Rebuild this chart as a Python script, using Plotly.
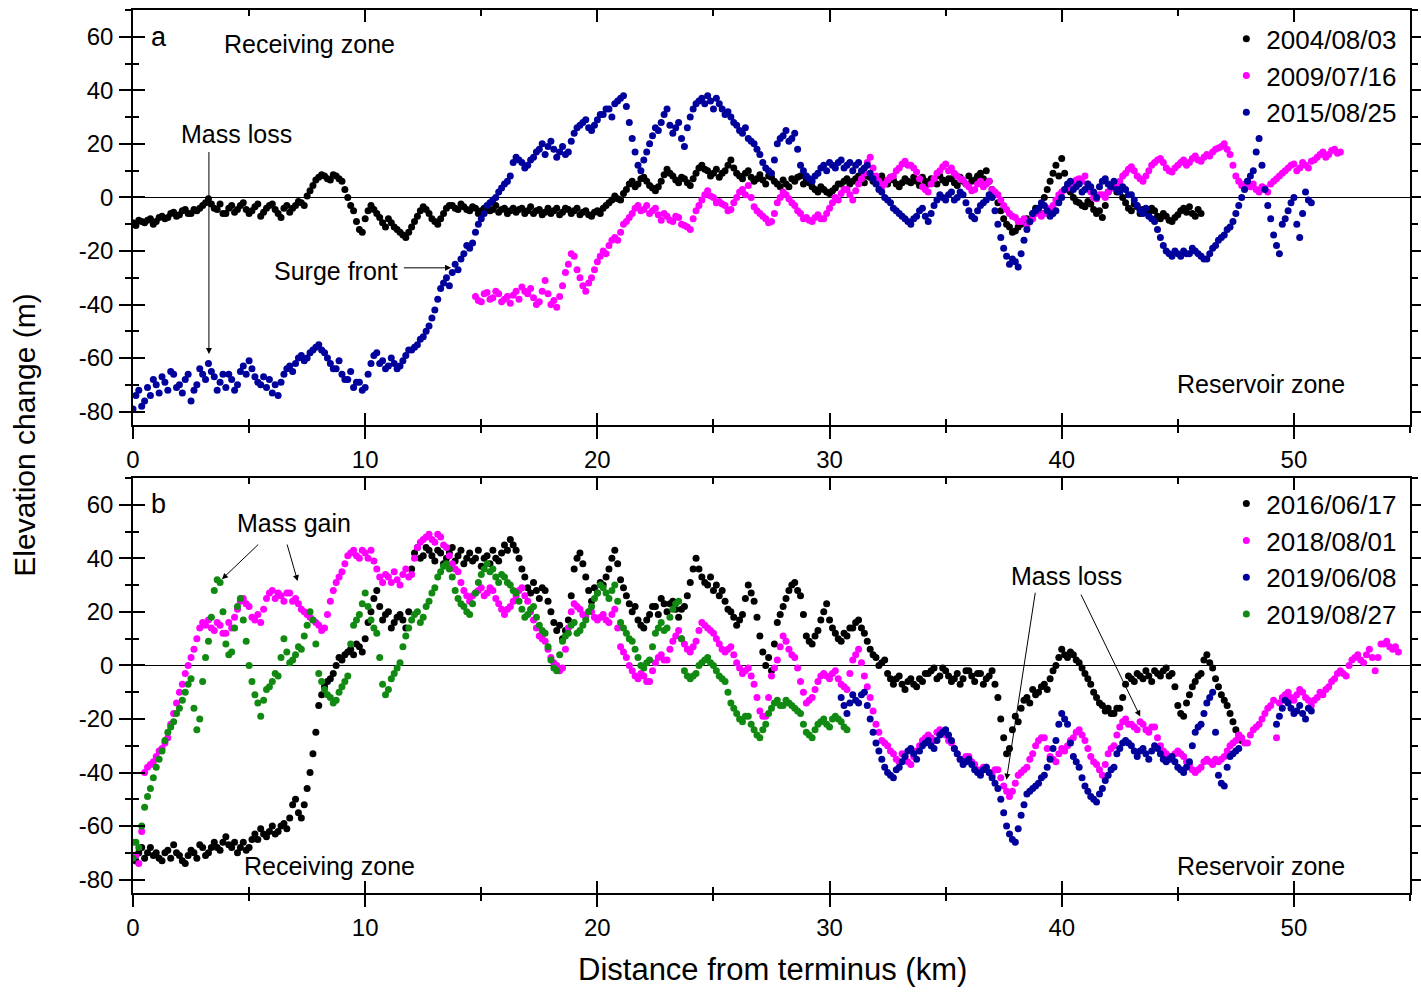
import numpy as np
import plotly.graph_objects as go

# ---------------------------------------------------------------------------
# Elevation-change profiles along the glacier centre line.
# "A" readings are taken every KM_STEP km from the profile's first distance,
# "B" readings sit half a step later, between consecutive "A" readings.
# ---------------------------------------------------------------------------
KM_STEP = 0.25

# ----- panel a -----
START_2004 = 0.0
DH_2004_A = [
    -9.5, -8.5, -9.5, -8, -9, -7, -7.5, -5.5, -6.5, -4.5, -6, -5, -3, -0.5, -4, -2.5,
    -6, -3, -4.5, -2, -6, -3.5, -7, -4, -2.5, -6, -4, -5.5, -3, -2, 0.5, 4.5,
    7.5, 8, 6.5, 8, 6, 0, -5, -12, -8, -3, -6, -9.5, -8, -11, -13, -15,
    -11, -7, -3.5, -6, -9, -8, -4, -3, -4.5, -3.5, -5, -4, -5, -3.5, -4.5, -5.5,
    -4, -5, -5.5, -4, -5, -6, -4.5, -5.5, -6, -4, -5.5, -4.5, -5, -6.5, -5, -7,
    -5, -4, -2, 0.5, -1, 3, 6, 5, 7.5, 4.5, 2.5, 6, 10.5, 8, 5.5, 7,
    4.5, 9, 12, 10, 9, 7.5, 10, 14, 9, 7, 10, 6, 8.5, 5, 7.5, 5,
    6.5, 4, 6, 8, 6.5, 4, 2, 3, 1.5, 3.5, 5, 7, 6, 8, 5.5, 7.5,
    6, 8, 5, 6.5, 4, 7, 5.5, 6, 7.5, 5, 6.5, 8, 5.5, 7, 4.5, 6,
    8, 6.5, 9, 10, 3, -2, -8, -11, -12.5, -10, -8, -6, -4, 0, 6, 12,
    14.5, 4, 0, -2, -3.5, -2.5, -6, -7.5, 2, 4, 3, -2, -5, -3.5, -4.5, -6,
    -5, -8, -7, -9, -6.5, -4, -3.5, -7, -6,
]
DH_2004_B = [
    -10.5, -9, -8.5, -10, -7.5, -8, -6, -7, -5, -6, -4.5, -4, -2, -2.5, -4.5, -6,
    -4, -5.5, -3, -4.5, -5, -2.5, -5.5, -3, -4.5, -7.5, -3, -4, -1.5, -3, 2.5, 6.5,
    8.5, 7, 8.5, 7, 3, -3, -9, -13, -5, -4.5, -7.5, -11, -9.5, -12, -14, -13,
    -9, -5, -4.5, -8, -10, -6, -3, -4, -2.5, -4.5, -3.5, -6, -4, -5, -3, -4.5,
    -6, -4, -4.5, -6, -3.5, -5, -6.5, -4, -5, -6.5, -4, -6, -4, -5.5, -6.5, -5.5,
    -6, -3, -1, -0.5, 1.5, 5, 4, 7, 6, 3.5, 4, 8.5, 9, 6.5, 7.5, 5.5,
    7, 11, 10.5, 8, 10.5, 9, 12, 11, 8, 9, 7.5, 7, 6.5, 8, 6, 4,
    5, 7, 7.5, 5, 5.5, 3, 4, 2, 2.5, 5, 6, 5, 7, 6.5, 8, 6,
    7, 6, 7.5, 5, 5.5, 6, 7.5, 4.5, 6, 7, 5, 6.5, 7, 5.5, 7.5, 5,
    6, 8, 7, 6, 1, -5, -10, -13, -11, -8.5, -9, -4, -6, 3, 9, 8,
    9, 2, -1.5, -3, -1.5, -4.5, -5, -3, 3.5, 2, 0, -4, -2.5, -6, -5, -4,
    -7, -6, -8.5, -7.5, -5, -5.5, -6, -4.5,
]

START_2009 = 14.75
DH_2009_A = [
    -37, -39, -35.5, -37.5, -36, -38, -39.5, -35, -33.5, -36, -37.5, -39, -31, -40, -41, -33,
    -25, -22, -30, -35, -30, -24, -20, -18, -15, -13, -9, -6, -3, -4.5, -6, -4,
    -8.5, -7, -9, -7.5, -10.5, -12, -5, -1, 2.5, 0, -1.5, -3, -4.5, 0, 3, 4.5,
    -3.5, -6, -8, -9, -2, 2, -0.5, -3, -6, -7.5, -9, -6.5, -8, -4, 0, 1.5,
    3, -1, 5, 9, 15, 8, 4, 6.5, 8, 11, 13.5, 12, 9.5, 4, 2, 7,
    10, 12.5, 11, 8, 6.5, 4, 3, 6, 5, 3, 1, -3, -6, -7.5, -9, -10.5,
    -8, -4.5, -6, -5, -1, 2, 3.5, 5, 7, 8, 2, -0.5, 1, 2, 4.5, 6,
    9, 11.5, 8, 6, 10, 13, 14.5, 11, 9.5, 12, 14, 13, 15.5, 13.5, 16, 17,
    18.5, 20, 16, 8, 4.5, 6, 5, 2, 3.5, 5, 7, 9, 11, 12.5, 11, 12,
    13.5, 15, 17, 16, 18, 17,
]
DH_2009_B = [
    -38.5, -36, -38, -35, -39, -37, -36.5, -38, -35, -34, -40, -35, -36, -38.5, -37, -28,
    -21, -27, -33, -32, -27, -22, -21, -16, -16, -10, -7.5, -4, -5, -3, -5, -6.5,
    -6, -8.5, -7, -10, -11, -8, -3, 1, 0.5, -2, -2.5, -5, -2, 2, 1, 0,
    -5, -7, -9.5, -6, 0, 1, -2, -5, -8, -8.5, -7.5, -8, -6, -2, -1, 3,
    1, 2.5, 7, 13, 11, 6, 5, 7.5, 10, 12.5, 12, 11, 7, 3, 5, 9,
    11.5, 10, 9, 7, 5, 2.5, 5, 4, 6, 2, -1, -4.5, -7, -9, -8, -9,
    -6, -7, -4, -3, 1, 3, 4, 6.5, 6, 5, 0, 1, 0, 3.5, 5, 8,
    10.5, 10, 7, 8, 12, 14, 13, 10, 11, 13, 12, 14.5, 14, 15, 15.5, 18,
    19, 18, 12, 6, 5, 4, 3, 4, 2, 6, 8, 10, 12, 10, 13, 11,
    14, 16, 15, 17.5, 16.5,
]

START_2015 = 0.0
DH_2015_A = [
    -79, -72, -76, -74, -70, -67, -72, -66, -70, -68, -76, -70, -66, -62, -67, -69,
    -71, -68, -70, -63, -61, -67, -70, -71, -73, -74, -66, -63, -62, -59, -60, -57,
    -55, -58, -62, -64, -66, -68, -71, -69, -71, -62, -58, -61, -63, -62, -63, -59,
    -57, -55, -52, -48, -42, -34, -30, -28, -27, -21, -19, -13, -8, -3, -1, 2,
    5, 8, 15, 13, 12, 15, 18, 16, 21, 15, 19, 17, 24, 27, 29, 25,
    29, 31, 33, 35, 37, 34, 22, 12, 14, 20, 26, 28, 33, 24, 28, 19,
    30, 35, 37, 38, 33, 35, 31, 30, 27, 24, 22, 20, 16, 11, 9, 20,
    23, 21, 24, 12, 8, 6, 9, 12, 13, 11, 14, 12, 10, 13, 11, 9,
    5, 2, -1, -4, -6, -8, -10, -7, -4, -9, -3, 1, -1, 2, 0, 1,
    -5, -8, -3, -1, 0, -10, -19, -25, -24, -21, -12, -6, -4, -3, -7, -5,
    0, 5, 3, 5, 3, 4, 0, 6, 5, 6, 2, 3, 1, -3, -6, -7,
    -9, -15, -20, -22, -21, -20, -21, -20, -22, -23, -19, -16, -14, -11, -6, 0,
    6, 10, 22, 3, -8, -18, -10, -5, 0, -15, 2, -2,
]
DH_2015_B = [
    -74, -78, -71, -68, -73, -69, -65, -71, -73, -66, -72, -64, -68, -65, -72, -66,
    -66, -72, -65, -66, -64, -69, -67, -68, -70, -69, -64, -65, -60, -61, -58, -56,
    -57, -60, -64, -61, -68, -65, -69, -72, -66, -59, -62, -64, -60, -64, -61, -57,
    -56, -53, -50, -45, -38, -32, -33, -25, -23, -18, -17, -10, -6, -2, 0, 3.5,
    6, 13, 14, 11, 14, 17, 20, 19, 18, 17, 16, 21, 26, 28, 26, 27,
    31, 33, 30, 36, 38, 28, 17, 10, 17, 23, 25, 31, 27, 26, 22, 26,
    33, 36, 35, 36, 37, 33, 32, 28, 25, 26, 21, 18, 13, 10, 14, 22,
    25, 22, 18, 10, 7, 8, 11, 10, 12, 13, 11, 13, 12, 10, 12, 7,
    3, 0, -2, -5, -7, -9, -8, -5, -7, -6, -1, 0, 1, -1, 2, -2,
    -7, -5, -2, 1, -5, -15, -22, -23, -26, -16, -9, -5, -2, -5, -6, -2,
    3, 6, 4, 2, 5, 2, 4, 7, 4, 3, 4, 1, -1, -5, -4, -8,
    -12, -18, -21, -20, -22, -21, -19, -21, -23, -21, -18, -15, -12, -9, -3, 3,
    8, 17, 12, -3, -14, -21, -8, -2, -10, -6, -1,
]

# ----- panel b -----
START_2016 = 0.0
DH_2016_A = [
    -71, -70, -72, -68, -70, -73, -69, -67, -71, -74, -69, -72, -68, -70, -66, -69,
    -64, -68, -70, -66, -68, -63, -61, -64, -60, -62, -59, -57, -50, -57, -46, -33,
    -15, -8, -5, 0, 2, 5, 4, 7, 10, 20, 28, 17, 20, 16, 19, 14,
    36, 44, 41, 43, 39, 42, 40, 44, 41, 38, 42, 40, 37, 41, 43, 39,
    45, 47, 43, 36, 29, 31, 25, 28, 20, 13, 10, 17, 36, 42, 33, 24,
    27, 30, 36, 43, 32, 26, 20, 17, 14, 19, 22, 25, 20, 24, 18, 22,
    31, 40, 33, 30, 28, 26, 24, 20, 15, 19, 30, 24, 11, 0, -2, 16,
    22, 28, 31, 26, 11, 8, 13, 20, 17, 12, 9, 11, 14, 17, 12, 6,
    3, 1, -3, -7, -4, -9, -5, -8, -6, -3, -1, -4, -2, -6, -3, -5,
    -2, -6, -3, -5, -2, -12, -27, -31, -19, -16, -12, -9, -10, -7, -5, 0,
    6, 3, 4, 1, -3, -7, -12, -15, -16, -18, -16, -7, -5, -3, -5, -4,
    -2, -4, -1, -3, -15, -19, -11, -6, -3, 4, -1, -8, -13, -18, -24, -28,
]
DH_2016_B = [
    -73, -68, -70, -71, -72, -70, -72, -70, -73, -71, -70, -67, -71, -68, -68, -66,
    -67, -66, -68, -69, -65, -65, -63, -62, -63, -60, -61, -52, -55, -52, -40, -25,
    -11, -6, -3, 3, 4, 6, 8, 5, 16, 25, 22, 19, 14, 18, 17, 20,
    42, 40, 44, 41, 43, 38, 42, 39, 43, 40, 39, 43, 40, 38, 40, 42,
    43, 45, 40, 33, 27, 28, 29, 24, 16, 15, 13, 26, 40, 38, 28, 29,
    31, 33, 40, 38, 29, 23, 22, 15, 17, 22, 19, 23, 23, 21, 21, 26,
    36, 36, 31, 33, 30, 28, 21, 18, 17, 25, 27, 18, 5, 3, 8, 19,
    25, 30, 28, 19, 9, 11, 17, 23, 14, 10, 12, 14, 16, 14, 9, 4,
    0, 2, -5, -5, -7, -6, -7, -5, -3, -2, -5, -1, -4, -5, -7, -2,
    -4, -3, -7, -4, -7, -20, -33, -24, -21, -13, -14, -11, -8, -9, -2, 3,
    4, 5, 2, -1, -5, -10, -14, -17, -18, -16, -12, -4, -6, -4, -2, -6,
    -3, -2, -4, -8, -18, -14, -8, -4, 2, 1, -5, -11, -15, -21, -26,
]

START_2018 = 0.0
DH_2018_A = [
    -66, -74, -40, -37, -34, -31, -27, -18, -10, -3, 3, 10, 16, 17, 13, 15,
    12, 14, 21, 25, 22, 17, 16, 25, 28, 27, 24, 27, 25, 21, 19, 17,
    15, 14, 24, 31, 35, 41, 43, 40, 42, 43, 36, 31, 33, 35, 30, 36,
    34, 44, 47, 49, 46, 48, 44, 38, 35, 28, 24, 27, 29, 27, 28, 23,
    19, 22, 26, 29, 24, 17, 11, 9, 3, 0, -1, 14, 23, 21, 18, 20,
    17, 19, 16, 21, 7, 3, -2, -5, -4, -6, 1, 4, 2, 9, 13, 8,
    5, 9, 16, 14, 12, 8, 5, 7, 1, -3, -1, -7, -17, -19, -4, 2,
    11, 6, 3, -6, -14, -12, -6, -3, -5, -2, -7, -9, 2, 6, -4, -12,
    -22, -28, -30, -33, -36, -34, -37, -32, -28, -26, -28, -24, -26, -29, -33, -36,
    -34, -37, -40, -38, -41, -39, -45, -49, -44, -40, -38, -33, -28, -27, -34, -36,
    -31, -30, -27, -24, -28, -34, -37, -41, -33, -30, -23, -20, -22, -24, -22, -25,
    -23, -30, -33, -35, -32, -34, -37, -40, -38, -35, -37, -36, -34, -30, -28, -27,
    -29, -24, -22, -18, -15, -27, -12, -10, -13, -9, -12, -15, -12, -11, -8, -5,
    -2, -4, 2, 4, 1, 6, -2, 8, 9, 6, 5,
]
DH_2018_B = [
    -71, -62, -38, -36, -32, -29, -22, -14, -7, 0, 6, 14, 15, 14, 16, 12,
    16, 18, 24, 23, 18, 19, 21, 27, 25, 26, 27, 24, 23, 20, 18, 16,
    13, 19, 28, 33, 38, 42, 41, 43, 40, 39, 33, 34, 31, 32, 34, 33,
    40, 46, 48, 47, 49, 45, 41, 36, 31, 26, 26, 28, 26, 29, 25, 21,
    21, 24, 28, 26, 20, 14, 10, 6, 1, -2, 6, 20, 22, 19, 20, 18,
    18, 17, 19, 14, 5, 0, -4, -3, -6, -2, 3, 2, 6, 11, 10, 6,
    7, 13, 15, 13, 10, 6, 6, 4, -1, -2, -4, -12, -19, -12, -1, 7,
    9, 4, -1, -10, -13, -9, -4, -4, -3, -5, -8, -3, 4, 1, -8, -17,
    -25, -29, -32, -35, -33, -36, -34, -30, -27, -27, -25, -25, -28, -31, -35, -34,
    -36, -39, -38, -40, -39, -42, -47, -47, -41, -39, -35, -30, -27, -31, -35, -33,
    -32, -28, -25, -26, -31, -36, -39, -37, -31, -26, -21, -22, -23, -21, -24, -23,
    -27, -32, -34, -33, -33, -36, -39, -39, -36, -36, -35, -35, -32, -29, -26, -29,
    -26, -23, -20, -16, -13, -14, -11, -12, -11, -10, -13, -13, -10, -9, -6, -3,
    -3, 0, 3, 2, 4, 3, 3, 8, 7, 7,
]

START_201906 = 30.5
DH_201906_A = [
    -12, -18, -11, -14, -10, -20, -29, -35, -40, -42, -38, -34, -31, -35, -30, -28,
    -31, -26, -24, -28, -33, -37, -35, -39, -41, -38, -42, -46, -55, -63, -66, -56,
    -48, -46, -44, -41, -35, -28, -18, -22, -34, -38, -45, -49, -51, -46, -41, -38,
    -31, -28, -30, -34, -31, -35, -30, -33, -36, -34, -38, -40, -36, -25, -22, -14,
    -10, -41, -45, -34, -32, None, None, None, None, None, None, -22, -16, -14, -18, -15,
    -20, -17,
]
DH_201906_B = [
    -15, -14, -13, -11, -15, -25, -32, -38, -41, -39, -36, -32, -33, -32, -29, -30,
    -28, -25, -26, -31, -35, -36, -37, -40, -39, -40, -44, -50, -60, -65, -61, -52,
    -47, -45, -42, -38, -31, -22, -20, -29, -36, -42, -47, -50, -48, -43, -39, -33,
    -29, -29, -32, -32, -33, -32, -31, -35, -35, -36, -39, -38, -30, -23, -18, -12,
    -25, -44, -38, -33, -31, None, None, None, None, None, None, -19, -13, -16, -17, -18,
    -16,
]

START_201908 = 0.0
DH_201908_A = [
    -72, -68, -53, -46, -38, -32, -25, -21, -16, -10, -5, -24, -6, 9, 28, 31,
    8, 5, 22, 17, 0, -11, -19, -9, -6, -4, 10, 1, 4, 6, 15, 17,
    -3, -9, -12, -13, -8, -4, 15, 19, 27, 17, 12, -7, -9, -3, 1, 11,
    17, 20, 18, 24, 29, 35, 38, 33, 25, 22, 19, 27, 34, 38, 36, 31,
    33, 30, 27, 21, 19, 22, 15, 12, 2, -2, 9, 12, 16, 13, 17, 22,
    27, 29, 25, 30, 16, 12, 9, 3, -1, 2, 12, 16, 14, 21, 24, -2,
    -5, -3, 1, 3, 0, -4, -6, -14, -18, -21, -19, -24, -27, -22, -16, -13,
    -15, -14, -16, -18, -25, -27, -22, -20, -23, -19, -21, -24,
]
DH_201908_B = [
    -66, -60, -49, -42, -35, -28, -23, -18, -13, -7, -16, -20, 3, 18, 32, 20,
    4, 14, 25, 9, -6, -14, -13, -8, -3, 3, 5, 2, 7, 11, 20, 8,
    -6, -11, -14, -10, -6, 8, 17, 23, 22, 14, 3, -11, -5, -1, 7, 14,
    19, 16, 22, 27, 33, 37, 36, 28, 23, 20, 23, 31, 36, 35, 33, 34,
    31, 28, 24, 18, 21, 18, 13, 7, -1, 4, 11, 15, 12, 15, 20, 25,
    30, 27, 28, 24, 14, 10, 6, 0, 1, 7, 14, 13, 18, 23, 10, -4,
    -4, 0, 2, 1, -2, -5, -10, -16, -20, -19, -22, -26, -24, -18, -14, -15,
    -13, -15, -17, -22, -26, -24, -21, -22, -20, -20, -23,
]

PANEL_A = [
    ("2004/08/03", START_2004, DH_2004_A, DH_2004_B, "#000000"),
    ("2009/07/16", START_2009, DH_2009_A, DH_2009_B, "#FF00FF"),
    ("2015/08/25", START_2015, DH_2015_A, DH_2015_B, "#00009C"),
]
PANEL_B = [
    ("2016/06/17", START_2016, DH_2016_A, DH_2016_B, "#000000"),
    ("2018/08/01", START_2018, DH_2018_A, DH_2018_B, "#FF00FF"),
    ("2019/06/08", START_201906, DH_201906_A, DH_201906_B, "#00009C"),
    ("2019/08/27", START_201908, DH_201908_A, DH_201908_B, "#118A11"),
]

X_TICKS = [0, 10, 20, 30, 40, 50]
Y_TICKS = [-80, -60, -40, -20, 0, 20, 40, 60]
X_RANGE = [0, 55]
Y_RANGE = [-85, 70]

FONT = "Liberation Sans, Arial, sans-serif"
MARKER_SIZE = 7

fig = go.Figure()


def add_profiles(series, xref, yref, legend):
    for name, start, dh_a, dh_b, color in series:
        km_a = start + KM_STEP * np.arange(len(dh_a))
        km_b = start + KM_STEP / 2 + KM_STEP * np.arange(len(dh_b))
        fig.add_trace(go.Scatter(
            x=np.concatenate([km_a, km_b]), y=list(dh_a) + list(dh_b),
            mode="markers", name=name,
            marker=dict(color=color, size=MARKER_SIZE, line=dict(width=0)),
            xaxis=xref, yaxis=yref, legend=legend,
        ))


add_profiles(PANEL_A, "x", "y", "legend")
add_profiles(PANEL_B, "x2", "y2", "legend2")

# empty helpers so the inner-tick overlay axes get drawn
for xa, ya in [("x3", "y"), ("x", "y3"), ("x4", "y2"), ("x2", "y4")]:
    fig.add_trace(go.Scatter(x=[None], y=[None], xaxis=xa, yaxis=ya,
                             showlegend=False, hoverinfo="skip"))

tick_font = dict(family=FONT, size=24, color="black")


def main_x(anchor):
    return dict(anchor=anchor, domain=[0, 1], range=X_RANGE,
                tickvals=X_TICKS, ticktext=[str(v) for v in X_TICKS],
                ticks="outside", ticklen=12, tickwidth=1.5, tickcolor="black",
                minor=dict(ticks="outside", ticklen=6, dtick=5, tick0=0,
                           tickwidth=1.5, tickcolor="black"),
                showline=True, linecolor="black", linewidth=1.5, mirror=True,
                showgrid=False, zeroline=False, tickfont=tick_font,
                ticklabelstandoff=0)


def main_y(anchor, domain):
    return dict(anchor=anchor, domain=domain, range=Y_RANGE,
                tickvals=Y_TICKS, ticktext=[str(v) for v in Y_TICKS],
                ticks="outside", ticklen=12, tickwidth=1.5, tickcolor="black",
                minor=dict(ticks="outside", ticklen=6, dtick=10, tick0=0,
                           tickwidth=1.5, tickcolor="black"),
                showline=True, linecolor="black", linewidth=1.5, mirror="ticks",
                showgrid=False, zeroline=True, zerolinecolor="black",
                zerolinewidth=1, tickfont=tick_font, ticklabelstandoff=1)


def inner_x(over, anchor):
    return dict(overlaying=over, anchor=anchor, range=X_RANGE, tickvals=X_TICKS,
                ticks="inside", ticklen=12, tickwidth=1.5, tickcolor="black",
                minor=dict(ticks="inside", ticklen=6, dtick=5, tick0=0,
                           tickwidth=1.5, tickcolor="black"),
                showline=True, linecolor="black", linewidth=1.5, mirror="ticks",
                showticklabels=False, showgrid=False, zeroline=False)


def inner_y(over, anchor):
    return dict(overlaying=over, anchor=anchor, range=Y_RANGE, tickvals=Y_TICKS,
                ticks="inside", ticklen=12, tickwidth=1.5, tickcolor="black",
                minor=dict(ticks="inside", ticklen=6, dtick=10, tick0=0,
                           tickwidth=1.5, tickcolor="black"),
                showline=False, side="left",
                showticklabels=False, showgrid=False, zeroline=False)


DOMAIN_A = [0.530, 1.0]
DOMAIN_B = [0.0, 0.470]
legend_font = dict(family=FONT, size=26, color="black")

fig.update_layout(
    width=1421, height=994,
    margin=dict(l=133, r=11, t=10, b=101, autoexpand=False),
    paper_bgcolor="white", plot_bgcolor="white",
    font=dict(family=FONT, color="black"),
    xaxis=main_x("y"), yaxis=main_y("x", DOMAIN_A),
    xaxis2=main_x("y2"), yaxis2=main_y("x2", DOMAIN_B),
    xaxis3=inner_x("x", "y"), yaxis3=inner_y("y", "x"),
    xaxis4=inner_x("x2", "y2"), yaxis4=inner_y("y2", "x2"),
    legend=dict(x=0.994, y=0.994, xanchor="right", yanchor="top",
                bgcolor="rgba(0,0,0,0)", font=legend_font,
                tracegroupgap=0, itemwidth=30),
    legend2=dict(x=0.994, y=0.4675, xanchor="right", yanchor="top",
                 bgcolor="rgba(0,0,0,0)", font=legend_font,
                 tracegroupgap=0, itemwidth=30),
    showlegend=True,
)


def label(text, x, y, xref, yref, size=25):
    fig.add_annotation(text=text, x=x, y=y, xref=xref, yref=yref,
                       showarrow=False, xanchor="center", yanchor="middle",
                       font=dict(family=FONT, size=size, color="black"))


def arrow(x0, y0, x1, y1, xref, yref):
    fig.add_annotation(text="", x=x1, y=y1, ax=x0, ay=y0, xref=xref, yref=yref,
                       axref=xref, ayref=yref, showarrow=True, arrowhead=2,
                       arrowsize=1.2, arrowwidth=1, arrowcolor="black")


# panel a labels
label("a", 1.1, 60, "x", "y", size=27)
label("Receiving zone", 7.6, 57.3, "x", "y")
label("Reservoir zone", 48.6, -69.6, "x", "y")
label("Mass loss", 4.45, 23.7, "x", "y")
arrow(3.27, 17.5, 3.27, -58.5, "x", "y")
label("Surge front", 8.75, -27.3, "x", "y")
arrow(11.6, -26.3, 13.7, -26.3, "x", "y")

# panel b labels
label("b", 1.1, 60.3, "x2", "y2", size=27)
label("Mass gain", 6.92, 53.2, "x2", "y2")
arrow(5.46, 45.7, 3.83, 32.2, "x2", "y2")
arrow(6.62, 45.7, 7.09, 31.5, "x2", "y2")
label("Mass loss", 40.2, 33.3, "x2", "y2")
arrow(38.87, 27.7, 37.62, -42.7, "x2", "y2")
arrow(40.8, 27.0, 43.38, -19.1, "x2", "y2")
label("Receiving zone", 8.45, -74.9, "x2", "y2")
label("Reservoir zone", 48.6, -74.9, "x2", "y2")

# shared axis titles
fig.add_annotation(text="Elevation change (m)", x=-0.0846, y=0.519,
                   xref="paper", yref="paper", showarrow=False, textangle=-90,
                   xanchor="center", yanchor="middle",
                   font=dict(family=FONT, size=30, color="black"))
fig.add_annotation(text="Distance from terminus (km)", x=0.501, y=-0.087,
                   xref="paper", yref="paper", showarrow=False,
                   xanchor="center", yanchor="middle",
                   font=dict(family=FONT, size=31, color="black"))

fig.write_html("out.html")
